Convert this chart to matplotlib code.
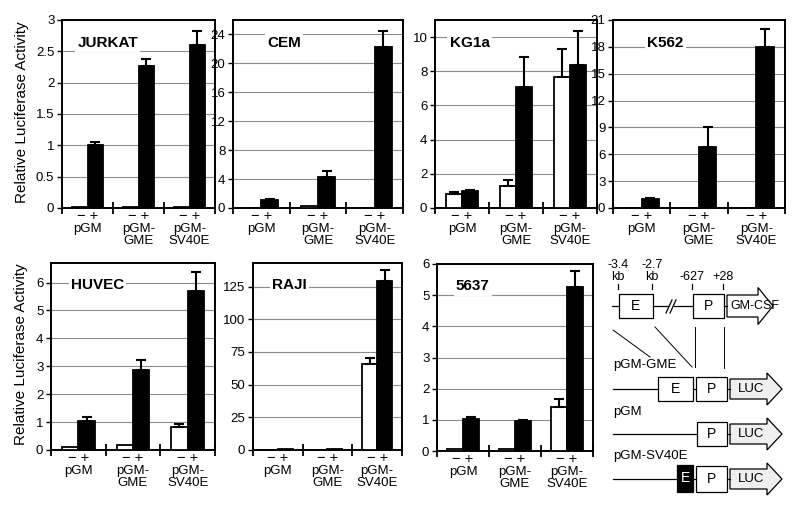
import matplotlib
matplotlib.use('Agg')
import matplotlib.pyplot as plt
import numpy as np
from matplotlib.patches import Rectangle, Polygon

plt.rcParams['font.family'] = ['Liberation Sans', 'DejaVu Sans']

W, H = 800, 507
fig = plt.figure(figsize=(8, 5.07), dpi=100)

# ---------------- data ----------------
groups = ['pGM', 'pGM-\nGME', 'pGM-\nSV40E']

jurkat_minus = [0.01, 0.01, 0.01]
jurkat_minus_err = [0, 0, 0]
jurkat_plus = [1.01, 2.27, 2.60]
jurkat_plus_err = [0.05, 0.10, 0.22]

cem_minus = [0.05, 0.25, 0.05]
cem_minus_err = [0, 0, 0]
cem_plus = [1.15, 4.3, 22.3]
cem_plus_err = [0.05, 0.8, 2.2]

kg1a_minus = [0.82, 1.3, 7.68]
kg1a_minus_err = [0.1, 0.34, 1.6]
kg1a_plus = [1.01, 7.09, 8.34]
kg1a_plus_err = [0.04, 1.76, 2.0]

k562_minus = [0.05, 0.05, 0.05]
k562_minus_err = [0, 0, 0]
k562_plus = [1.02, 6.8, 17.95]
k562_plus_err = [0.05, 2.24, 2.1]

huvec_minus = [0.1, 0.18, 0.84]
huvec_minus_err = [0, 0, 0.08]
huvec_plus = [1.05, 2.88, 5.71]
huvec_plus_err = [0.12, 0.36, 0.65]

raji_minus = [0.3, 0.2, 65.5]
raji_minus_err = [0, 0, 5.0]
raji_plus = [0.8, 0.5, 129.5]
raji_plus_err = [0, 0, 8.0]

c5637_minus = [0.07, 0.07, 1.42]
c5637_minus_err = [0, 0, 0.25]
c5637_plus = [1.02, 0.95, 5.27]
c5637_plus_err = [0.06, 0.06, 0.51]

yticks_jurkat = [0, 0.5, 1, 1.5, 2, 2.5, 3]
yticklabels_jurkat = ['0', '0.5', '1', '1.5', '2', '2.5', '3']
yticks_cem = [0, 4, 8, 12, 16, 20, 24]
yticks_kg1a = [0, 2, 4, 6, 8, 10]
yticks_k562 = [0, 3, 6, 9, 12, 15, 18, 21]
yticks_huvec = [0, 1, 2, 3, 4, 5, 6]
yticks_raji = [0, 25, 50, 75, 100, 125]
yticks_5637 = [0, 1, 2, 3, 4, 5, 6]


def px_rect(x0, x1, y0, y1):
    return [x0 / W, 1 - y1 / H, (x1 - x0) / W, (y1 - y0) / H]


def draw_panel(rect, title, minus, minus_err, plus, plus_err, ymax, yticks,
               yticklabels=None, tx=0.1, ty=0.88):
    ax = fig.add_axes(rect)
    x = np.arange(3)
    ax.bar(x + 0.35, minus, 0.3, color='white', edgecolor='black', linewidth=1.3, zorder=3)
    ax.bar(x + 0.65, plus, 0.3, color='black', edgecolor='black', linewidth=1.3, zorder=3)
    for xs, v, e in ((x + 0.35, minus, minus_err), (x + 0.65, plus, plus_err)):
        v = np.asarray(v, float)
        e = np.asarray(e, float)
        m = e > 0
        if m.any():
            ax.errorbar(xs[m], v[m], yerr=[np.zeros(m.sum()), e[m]], fmt='none',
                        ecolor='black', elinewidth=1.5, capsize=3.5, capthick=1.5, zorder=4)
    ax.set_xlim(0, 3)
    ax.set_ylim(0, ymax)
    ax.set_yticks(yticks)
    if yticklabels is None:
        yticklabels = [str(t) for t in yticks]
    ax.set_yticklabels(yticklabels, fontsize=9.5)
    ax.set_xticks([0, 1, 2, 3])
    ax.set_xticklabels([])
    ax.tick_params(axis='x', direction='inout', length=8, width=1.3)
    ax.tick_params(axis='y', direction='out', length=3.5, width=1.0, pad=2)
    ax.yaxis.grid(True, color='#8c8c8c', linewidth=0.8, zorder=0)
    ax.set_axisbelow(True)
    for s in ax.spines.values():
        s.set_linewidth(1.4)
    ax.text(tx, ty, title, transform=ax.transAxes, fontsize=11, fontweight='bold',
            ha='left', va='center', zorder=5,
            bbox=dict(facecolor='white', edgecolor='none', pad=1.5))
    for i, g in enumerate(groups):
        ax.annotate('\u2212 +', (i + 0.5, 0), xycoords=('data', 'axes fraction'),
                    xytext=(0, -1), textcoords='offset points', ha='center', va='top',
                    fontsize=10.5, annotation_clip=False)
        ax.annotate(g, (i + 0.5, 0), xycoords=('data', 'axes fraction'),
                    xytext=(0, -10.5), textcoords='offset points', ha='center', va='top',
                    fontsize=9.5, linespacing=1.0, annotation_clip=False)
    return ax


draw_panel(px_rect(62, 215, 20, 208), 'JURKAT', jurkat_minus, jurkat_minus_err,
           jurkat_plus, jurkat_plus_err, 3, yticks_jurkat, yticklabels_jurkat, tx=0.1)
draw_panel(px_rect(233, 403, 20, 208), 'CEM', cem_minus, cem_minus_err,
           cem_plus, cem_plus_err, 26, yticks_cem, tx=0.2)
draw_panel(px_rect(435, 597, 20, 208), 'KG1a', kg1a_minus, kg1a_minus_err,
           kg1a_plus, kg1a_plus_err, 11, yticks_kg1a, tx=0.09)
draw_panel(px_rect(613, 785, 20, 208), 'K562', k562_minus, k562_minus_err,
           k562_plus, k562_plus_err, 21, yticks_k562, tx=0.2)
draw_panel(px_rect(51, 215, 263, 450), 'HUVEC', huvec_minus, huvec_minus_err,
           huvec_plus, huvec_plus_err, 6.7, yticks_huvec, tx=0.12)
draw_panel(px_rect(253, 402, 263, 450), 'RAJI', raji_minus, raji_minus_err,
           raji_plus, raji_plus_err, 143, yticks_raji, tx=0.13)
draw_panel(px_rect(437, 593, 264, 451), '5637', c5637_minus, c5637_minus_err,
           c5637_plus, c5637_plus_err, 6, yticks_5637, tx=0.12)

fig.text(22 / W, 1 - 112 / H, 'Relative Luciferase Activity', rotation=90,
         ha='center', va='center', fontsize=11)
fig.text(21 / W, 1 - 354 / H, 'Relative Luciferase Activity', rotation=90,
         ha='center', va='center', fontsize=11)

# ---------------- schematic ----------------
axd = fig.add_axes([0, 0, 1, 1], zorder=-1)
axd.set_xlim(0, W)
axd.set_ylim(H, 0)
axd.axis('off')
LW = 0.9


def box(x0, x1, y0, y1, label, fc='white', tc='black'):
    axd.add_patch(Rectangle((x0, y0), x1 - x0, y1 - y0, facecolor=fc, edgecolor='black', linewidth=LW))
    axd.text((x0 + x1) / 2, (y0 + y1) / 2, label, ha='center', va='center', fontsize=10, color=tc)


def arrow(x0, x1, yc, bh, hh, hl, label, lx, fc, fs=9.5):
    pts = [(x0, yc - bh / 2), (x1 - hl, yc - bh / 2), (x1 - hl, yc - hh / 2), (x1, yc),
           (x1 - hl, yc + hh / 2), (x1 - hl, yc + bh / 2), (x0, yc + bh / 2)]
    axd.add_patch(Polygon(pts, closed=True, facecolor=fc, edgecolor='black', linewidth=LW))
    axd.text(lx, yc, label, ha='center', va='center', fontsize=fs)


def hline(x0, x1, y):
    axd.plot([x0, x1], [y, y], color='black', linewidth=LW)


# genomic locus
yg = 306
hline(612, 619, yg)
box(619, 653, 294, 318, 'E')
hline(653, 668, yg)
hline(674, 693, yg)
axd.plot([666, 672], [313, 300], color='black', linewidth=LW)
axd.plot([670, 676], [313, 300], color='black', linewidth=LW)
box(693, 724, 294, 318, 'P')
hline(724, 727, yg)
arrow(727, 773, yg, 22, 37, 15, 'GM-CSF', 755, 'white', fs=9)
for xx, lab in ((618, '-3.4\nkb'), (652, '-2.7\nkb'), (692, '-627'), (723, '+28')):
    axd.plot([xx, xx], [284, 289], color='black', linewidth=LW)
    axd.text(xx, 283, lab, ha='center', va='bottom', fontsize=9, linespacing=0.95)

# connecting lines
axd.plot([613, 650], [330, 357], color='black', linewidth=0.7)
axd.plot([655, 692], [327, 367], color='black', linewidth=0.7)
axd.plot([695, 695], [327, 367], color='black', linewidth=0.7)
axd.plot([724, 724], [327, 368], color='black', linewidth=0.7)

# pGM-GME
axd.text(613, 365, 'pGM-GME', ha='left', va='center', fontsize=9.5)
y1 = 389
hline(613, 658, y1)
box(658, 693, 377, 401, 'E')
hline(693, 696, y1)
box(696, 727, 377, 401, 'P')
hline(727, 730, y1)
arrow(730, 782, y1, 20, 32, 15, 'LUC', 751, '#efefef')

# pGM
axd.text(613, 412, 'pGM', ha='left', va='center', fontsize=9.5)
y2 = 434
hline(613, 697, y2)
box(697, 727, 422, 446, 'P')
hline(727, 730, y2)
arrow(730, 782, y2, 20, 32, 15, 'LUC', 751, '#efefef')

# pGM-SV40E
axd.text(613, 456, 'pGM-SV40E', ha='left', va='center', fontsize=9.5)
y3 = 479
hline(613, 677, y3)
box(677, 693, 465, 492, 'E', fc='black', tc='white')
hline(693, 696, y3)
box(696, 727, 466, 492, 'P')
hline(727, 730, y3)
arrow(730, 782, y3, 20, 32, 15, 'LUC', 751, '#efefef')

fig.savefig('out.png', dpi=100)
